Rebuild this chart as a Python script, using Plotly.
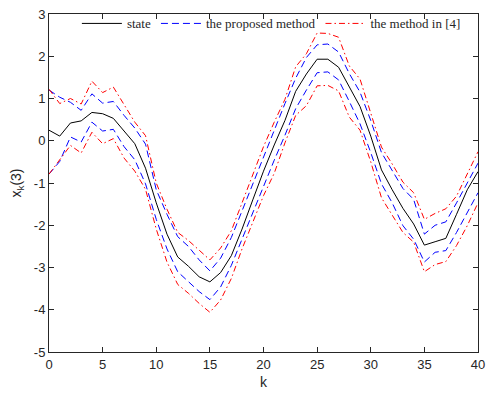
import plotly.graph_objects as go

k = list(range(41))

state = [0.25, 0.11, 0.42, 0.47, 0.67, 0.64, 0.53, 0.23, -0.07, -0.65,
         -1.47, -2.21, -2.75, -2.97, -3.22, -3.34, -3.12, -2.72, -2.09, -1.40,
         -0.72, -0.10, 0.48, 1.17, 1.58, 1.93, 1.93, 1.74, 1.28, 0.81,
         0.11, -0.69, -1.16, -1.60, -1.97, -2.47, -2.39, -2.31, -1.74, -1.16,
         -0.73]

proposed_upper = [1.20, 1.03, 0.91, 0.72, 1.11, 0.89, 0.93, 0.60, 0.30, -0.08,
                  -1.16, -1.74, -2.27, -2.50, -2.82, -3.08, -2.78, -2.29, -1.66, -1.02,
                  -0.40, 0.26, 0.88, 1.48, 1.97, 2.27, 2.29, 2.10, 1.59, 1.15,
                  0.48, -0.28, -0.70, -1.13, -1.39, -2.21, -2.00, -1.92, -1.47, -1.00,
                  -0.53]

proposed_lower = [-0.79, -0.49, 0.09, -0.03, 0.44, 0.23, 0.27, -0.14, -0.45, -1.02,
                  -1.86, -2.56, -3.10, -3.34, -3.57, -3.76, -3.46, -2.95, -2.33, -1.70,
                  -1.06, -0.46, 0.13, 0.76, 1.20, 1.61, 1.63, 1.44, 0.93, 0.40,
                  -0.28, -1.02, -1.47, -2.01, -2.33, -2.87, -2.64, -2.60, -2.17, -1.70,
                  -1.23]

ref4_upper = [1.22, 0.88, 1.00, 0.87, 1.41, 1.14, 1.27, 0.85, 0.44, 0.12,
              -1.00, -1.62, -2.17, -2.36, -2.60, -2.82, -2.54, -2.13, -1.47, -0.80,
              -0.14, 0.44, 0.98, 1.75, 2.06, 2.55, 2.54, 2.45, 1.77, 1.46,
              0.64, -0.15, -0.55, -0.98, -1.23, -1.86, -1.72, -1.61, -1.31, -0.80,
              -0.26]

ref4_lower = [-0.79, -0.45, -0.11, -0.29, 0.20, -0.07, 0.05, -0.41, -0.72, -1.15,
              -2.09, -2.87, -3.40, -3.61, -3.85, -4.06, -3.77, -3.26, -2.56, -1.93,
              -1.30, -0.77, -0.05, 0.60, 0.83, 1.30, 1.31, 1.18, 0.56, 0.25,
              -0.50, -1.35, -1.75, -2.17, -2.40, -3.10, -2.93, -2.86, -2.48, -2.01,
              -1.47]

x_ticks = [0, 5, 10, 15, 20, 25, 30, 35, 40]
y_ticks = [-5, -4, -3, -2, -1, 0, 1, 2, 3]

fig = go.Figure()

blue_dash = "7px,4px"
red_dashdot = "6px,3px,1.5px,3px"

fig.add_trace(go.Scatter(x=k, y=state, mode="lines", name="state",
                         line=dict(color="black", width=1)))
fig.add_trace(go.Scatter(x=k, y=proposed_upper, mode="lines", name="the proposed method",
                         line=dict(color="#0000ff", width=1, dash=blue_dash)))
fig.add_trace(go.Scatter(x=k, y=ref4_upper, mode="lines", name="the method in [4]",
                         line=dict(color="#ff0000", width=1, dash=red_dashdot)))
fig.add_trace(go.Scatter(x=k, y=proposed_lower, mode="lines", showlegend=False,
                         line=dict(color="#0000ff", width=1, dash=blue_dash)))
fig.add_trace(go.Scatter(x=k, y=ref4_lower, mode="lines", showlegend=False,
                         line=dict(color="#ff0000", width=1, dash=red_dashdot)))

axis_common = dict(
    showgrid=False, zeroline=False, showline=True, linecolor="#262626", linewidth=1,
    mirror="ticks", ticks="inside", ticklen=5, tickcolor="#262626", tickwidth=1,
    tickfont=dict(family="Liberation Sans, Arial", size=13, color="#262626"),
)

fig.update_layout(
    width=492, height=394,
    margin=dict(l=49, r=7, t=12, b=40),
    paper_bgcolor="white", plot_bgcolor="white",
    xaxis=dict(range=[0, 40], tickvals=x_ticks, ticktext=[str(v) for v in x_ticks],
               title=dict(text="k", font=dict(family="Liberation Sans, Arial", size=14, color="#262626"),
                          standoff=6),
               **axis_common),
    yaxis=dict(range=[-5, 3], tickvals=y_ticks, ticktext=[str(v) for v in y_ticks],
               title=dict(text="x<sub>k</sub>(3)", font=dict(family="Liberation Sans, Arial", size=14, color="#262626"),
                          standoff=8),
               **axis_common),
    legend=dict(orientation="h", x=0.065, xanchor="left", y=0.972, yanchor="middle",
                bgcolor="rgba(0,0,0,0)", borderwidth=0, itemwidth=40,
                font=dict(family="Liberation Serif, Times New Roman", size=13, color="#262626"),
                tracegroupgap=0),
    showlegend=True,
)

fig.write_html("out.html")
